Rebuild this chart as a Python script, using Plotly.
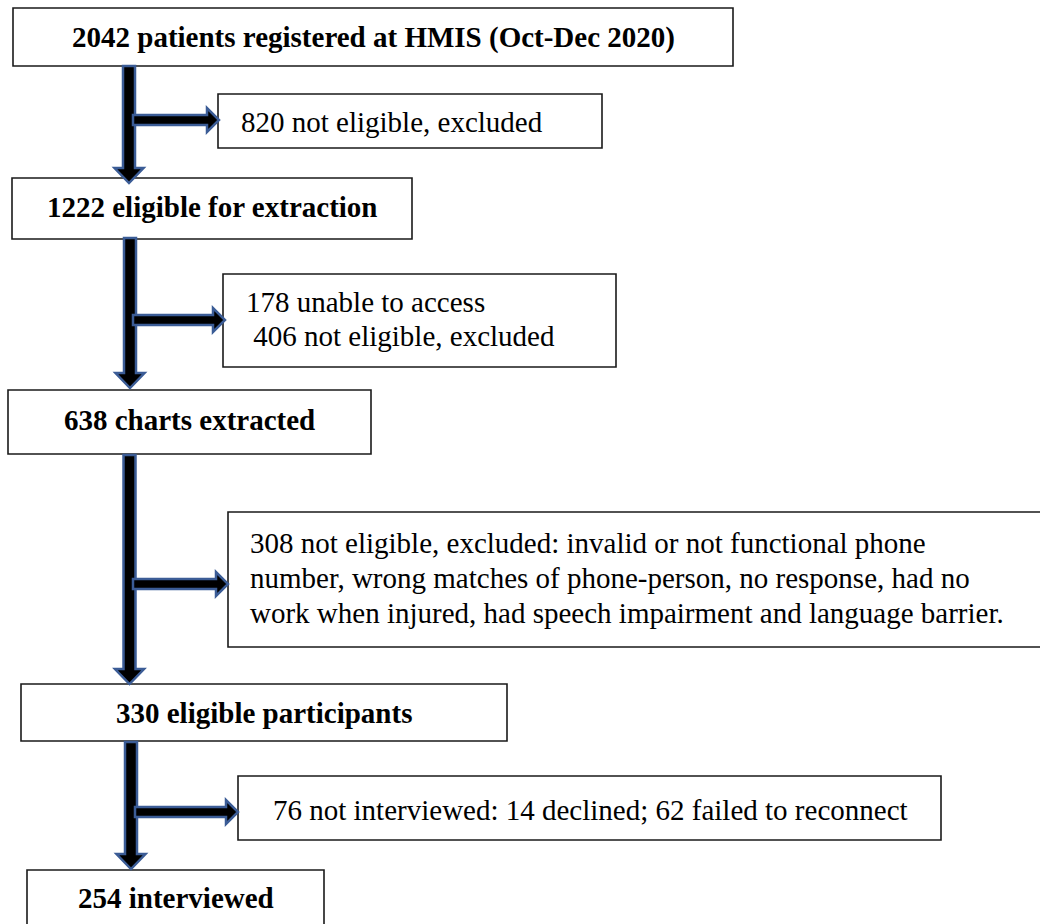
import plotly.graph_objects as go

# ---- data: flow counts and labels ----
main_counts = [2042, 1222, 638, 330, 254]
main_labels = [
    "2042 patients registered at HMIS (Oct-Dec 2020)",
    "1222 eligible for extraction",
    "638 charts extracted",
    "330 eligible participants",
    "254 interviewed",
]
excluded_counts = [820, 584, 308, 76]
excluded_lines = [
    ["820 not eligible, excluded"],
    ["178 unable to access", " 406 not eligible, excluded"],
    ["308 not eligible, excluded: invalid or not functional phone",
     "number, wrong matches of phone-person, no response, had no",
     "work when injured, had speech impairment and language barrier."],
    ["76 not interviewed: 14 declined; 62 failed to reconnect"],
]

# ---- layout geometry (pixels) ----
W, H = 1040, 924
main_boxes = [(13, 8, 733, 66), (12, 178, 412, 239), (8, 390, 371, 454),
              (21, 684, 507, 741), (27, 870, 324, 935)]
main_text_y = [37, 207, 420, 713, 898]
side_boxes = [(218, 94, 602, 148), (223, 274, 616, 367), (228, 512, 1045, 647),
              (238, 776, 941, 840)]
side_text = [  # (x, anchor, first line y, line step)
    (239, "left", 122, 0), (244, "left", 302, 34), (248, "left", 543, 35),
    (590, "center", 810, 0)]
v_arrows = [(129, 66, 183), (130, 238, 388), (129.5, 455, 684), (131, 742, 869)]
h_arrows = [(133, 120, 219), (133, 320, 225), (133, 584, 228), (135, 812, 238)]

FONT = "Liberation Serif, Times New Roman, serif"
BLUE = "#3B5C96"

fig = go.Figure()
shapes = []
annotations = []

for (x0, y0, x1, y1) in main_boxes + side_boxes:
    shapes.append(dict(type="rect", x0=x0, y0=y0, x1=x1, y1=y1,
                       line=dict(color="#1a1a1a", width=1.6),
                       fillcolor="white", layer="above"))


def v_arrow(cx, y0, yt, sw=6, hw=14.5, hl=15):
    return (f"M {cx-sw},{y0} L {cx+sw},{y0} L {cx+sw},{yt-hl} L {cx+hw},{yt-hl} "
            f"L {cx},{yt} L {cx-hw},{yt-hl} L {cx-sw},{yt-hl} Z")


def h_arrow(x0, cy, xt, sh=5, hh=12, hl=12):
    return (f"M {x0},{cy-sh} L {xt-hl},{cy-sh} L {xt-hl},{cy-hh} L {xt},{cy} "
            f"L {xt-hl},{cy+hh} L {xt-hl},{cy+sh} L {x0},{cy+sh} Z")


for (cx, y0, yt) in v_arrows:
    shapes.append(dict(type="path", path=v_arrow(cx, y0, yt), fillcolor="black",
                       line=dict(color=BLUE, width=2.5), layer="above"))
for (x0, cy, xt) in h_arrows:
    shapes.append(dict(type="path", path=h_arrow(x0, cy, xt), fillcolor="black",
                       line=dict(color=BLUE, width=2.5), layer="above"))

for (box, label, ty) in zip(main_boxes, main_labels, main_text_y):
    cx = (box[0] + box[2]) / 2
    annotations.append(dict(x=cx, y=ty, text=f"<b>{label}</b>", showarrow=False,
                            xanchor="center", yanchor="middle",
                            font=dict(family=FONT, size=29, color="black")))

for lines, (tx, anc, ty, step) in zip(excluded_lines, side_text):
    for i, ln in enumerate(lines):
        annotations.append(dict(x=tx, y=ty + i * step, text=ln, showarrow=False,
                                xanchor=anc, yanchor="middle",
                                font=dict(family=FONT, size=29, color="black")))

fig.update_layout(
    width=W, height=H, margin=dict(l=0, r=0, t=0, b=0),
    paper_bgcolor="white", plot_bgcolor="white",
    xaxis=dict(range=[0, W], visible=False, fixedrange=True),
    yaxis=dict(range=[H, 0], visible=False, fixedrange=True),
    shapes=shapes, annotations=annotations, showlegend=False,
)
fig.write_html("out.html", config={"displayModeBar": False},
               post_script="document.body.style.margin='0';document.body.style.overflow='hidden';")
